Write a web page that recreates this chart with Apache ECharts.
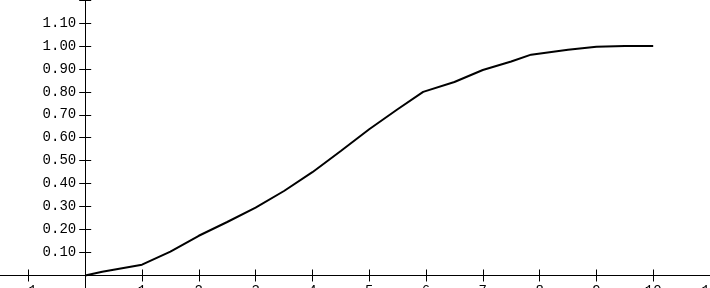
<!DOCTYPE html>
<html>
<head>
<meta charset="utf-8">
<script src="https://cdn.jsdelivr.net/npm/echarts@6/dist/echarts.min.js"></script>
<style>
html,body{margin:0;padding:0;background:#fff;overflow:hidden;width:710px;height:288px;}
#chart{width:740px;height:310px;}
</style>
</head>
<body>
<div id="chart"></div>
<script>
// Data
var xValues = [0, 0.3, 1, 1.5, 2, 2.5, 3, 3.5, 4, 4.5, 5, 5.5, 5.95, 6.5, 7, 7.5, 7.85, 8.5, 9, 9.5, 10];
var yValues = [0, 0.016, 0.047, 0.104, 0.173, 0.233, 0.296, 0.368, 0.45, 0.542, 0.637, 0.724, 0.80, 0.843, 0.895, 0.932, 0.962, 0.983, 0.996, 1.0, 1.0];
var xTickValues = [-1, 0, 1, 2, 3, 4, 5, 6, 7, 8, 9, 10, 11];
var xLabelValues = [-1, 1, 2, 3, 4, 5, 6, 7, 8, 9, 10, 11];
var yTickValues = [0, 0.1, 0.2, 0.3, 0.4, 0.5, 0.6, 0.7, 0.8, 0.9, 1.0, 1.1, 1.2];
var yLabelValues = [0.1, 0.2, 0.3, 0.4, 0.5, 0.6, 0.7, 0.8, 0.9, 1.0, 1.1];

var points = xValues.map(function (x, i) { return [x, yValues[i]]; });

var X_MIN = -1.5, X_MAX = 11, Y_MIN = -0.0545, Y_MAX = 1.2;
var lineStyle = {color: '#000', width: 1};
var labelFont = {fontFamily: 'Liberation Mono', fontSize: 14, color: '#000'};

// axes drawing line + ticks (placed on the other axis' zero)
function xLineAxis(main) {
  return {
    type: 'value', min: X_MIN, max: X_MAX, position: 'bottom',
    axisLine: {show: main, onZero: true, onZeroAxisIndex: 0, lineStyle: lineStyle},
    axisTick: {show: true, inside: !main, length: 6, customValues: xTickValues, lineStyle: lineStyle},
    axisLabel: {show: false},
    splitLine: {show: false}
  };
}
function yLineAxis(main) {
  return {
    type: 'value', min: Y_MIN, max: Y_MAX, position: 'left',
    axisLine: {show: main, onZero: true, onZeroAxisIndex: 0, lineStyle: lineStyle},
    axisTick: {show: true, inside: !main, length: 6, customValues: yTickValues, lineStyle: lineStyle},
    axisLabel: {show: false},
    splitLine: {show: false}
  };
}

var chart = echarts.init(document.getElementById('chart'), null, {renderer: 'canvas'});
chart.setOption({
  animation: false,
  backgroundColor: '#fff',
  grid: {left: 0, right: 30, top: 0, bottom: 22, containLabel: false},
  xAxis: [xLineAxis(true), xLineAxis(false), {
    type: 'value', min: X_MIN, max: X_MAX, position: 'bottom', offset: -12.5,
    axisLine: {show: false, onZero: false},
    axisTick: {show: false},
    axisLabel: {show: true, margin: 9, customValues: xLabelValues,
      formatter: function (v) { return String(v); },
      fontFamily: labelFont.fontFamily, fontSize: labelFont.fontSize, color: labelFont.color},
    splitLine: {show: false}
  }],
  yAxis: [yLineAxis(true), yLineAxis(false), {
    type: 'value', min: Y_MIN, max: Y_MAX, position: 'left', offset: -85.2,
    axisLine: {show: false, onZero: false},
    axisTick: {show: false},
    axisLabel: {show: true, margin: 9, customValues: yLabelValues,
      formatter: function (v) { return Number(v).toFixed(2); },
      fontFamily: labelFont.fontFamily, fontSize: labelFont.fontSize, color: labelFont.color},
    splitLine: {show: false}
  }],
  series: [{
    type: 'line',
    xAxisIndex: 0, yAxisIndex: 0,
    data: points,
    showSymbol: false,
    symbol: 'none',
    clip: false,
    lineStyle: {color: '#000', width: 2}
  }]
});
</script>
</body>
</html>
